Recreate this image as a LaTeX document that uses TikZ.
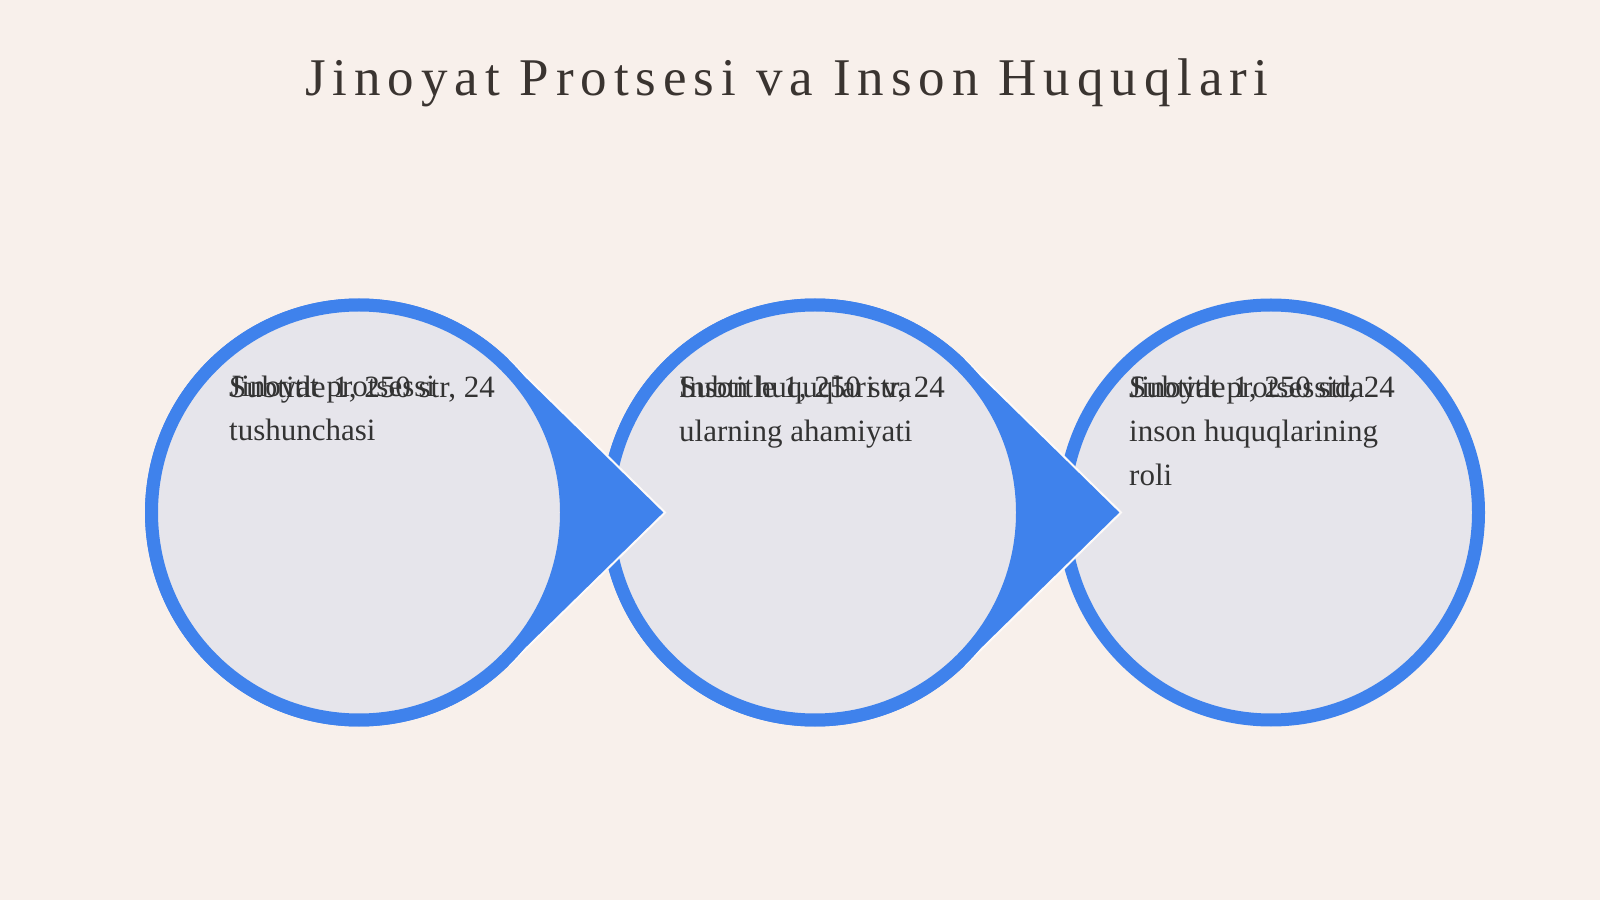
\documentclass[tikz,border=0pt]{standalone}
\usepackage{fontspec}
\setmainfont{Liberation Serif}
\newfontfamily\titlefont[LetterSpace=13]{Liberation Serif}
\definecolor{paper}{HTML}{F8F0EB}
\definecolor{ring}{HTML}{3F82EC}
\definecolor{disc}{HTML}{E6E5EB}
\definecolor{ink}{HTML}{333333}
\definecolor{heading}{HTML}{3A3430}
\tikzset{
  stage/.style={circle, draw=ring, fill=disc, line width=13pt, minimum size=415pt, inner sep=0pt},
  caption/.style={anchor=north west, align=left, inner sep=0pt, text=ink, font=\fontsize{31}{44}\selectfont},
  halo/.style={draw=white!70!paper, line width=2pt}
}
\begin{document}
\begin{tikzpicture}[x=1pt, y=1pt]
  \fill[paper] (0,0) rectangle (1600,900);
  \useasboundingbox (0,0) rectangle (1600,900);
  \node[anchor=base, text=heading, font=\titlefont\fontsize{53}{60}\selectfont] (title) at (787,804) {Jinoyat Protsesi va Inson Huquqlari};
  % stages, drawn right to left so each pointer lies over the next circle
  \foreach \i/\x in {3/1271, 2/815, 1/359} {
    \coordinate (o\i) at (\x,387.5);
    \ifnum\i<3
      \coordinate (tip\i) at (\x+306,387.5);
      \fill[ring] (o\i) ++(45.6:214) arc[start angle=45.6, end angle=314.4, radius=214] -- (tip\i) -- cycle;
      \draw[halo] (tip\i) ++(135.6:218.7) -- (tip\i) -- ++(224.4:218.7);
    \fi
    \node[stage] (c\i) at (o\i) {};
  }
  \node[caption] (s1) at (229,524) {Subtitle 1, 250 str, 24};
  \node[caption] (t1) at (229,524) {Jinoyat protsessi\\tushunchasi};
  \node[caption] (s2) at (679,524) {Subtitle 1, 250 str, 24};
  \node[caption] (t2) at (679,524) {Inson huquqlari va\\ularning ahamiyati};
  \node[caption] (s3) at (1129,524) {Subtitle 1, 250 str, 24};
  \node[caption] (t3) at (1129,524) {Jinoyat protsessida\\inson huquqlarining\\roli};
\end{tikzpicture}
\end{document}
